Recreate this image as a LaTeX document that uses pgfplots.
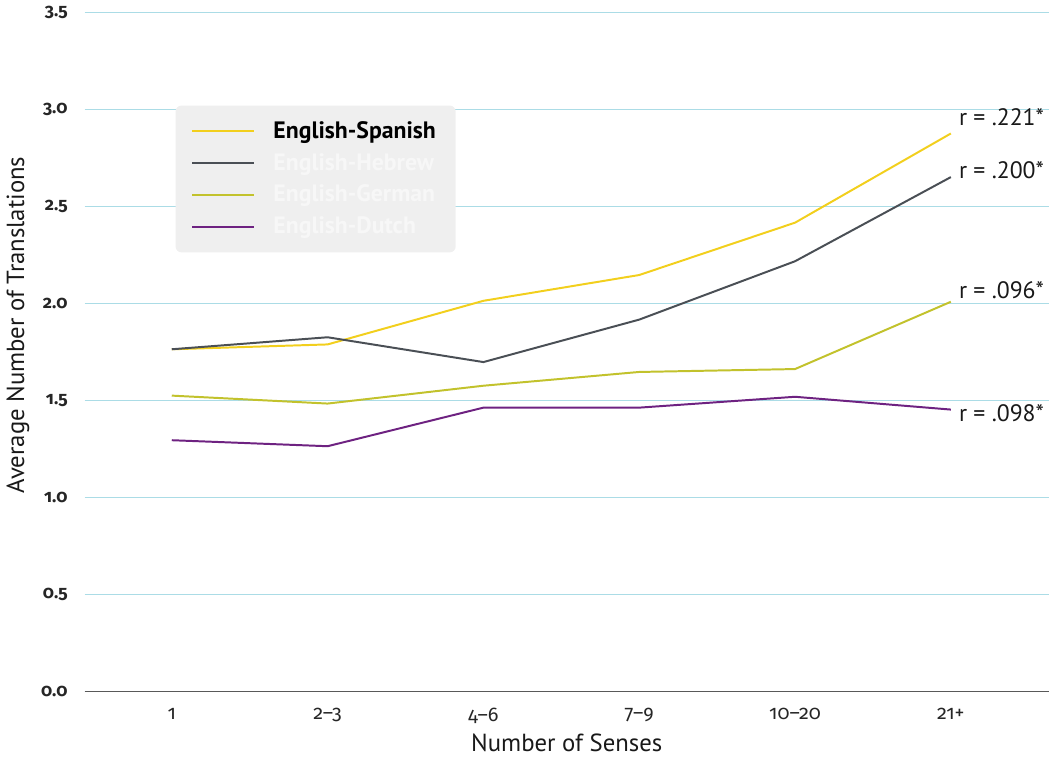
\documentclass[border=0pt]{standalone}
\usepackage{pgfplots}
\pgfplotsset{compat=1.18}
\usepackage{fontspec}
\setmainfont{PT Sans}
\newfontfamily\tickfont[Numbers=OldStyle]{Fira Sans}
\definecolor{cspan}{HTML}{F2CF1D}
\definecolor{cheb}{HTML}{4A4F55}
\definecolor{cger}{HTML}{C2C22C}
\definecolor{cdut}{HTML}{6E2281}
\definecolor{cgrid}{HTML}{ABDCE6}
\definecolor{clegbg}{HTML}{EFEFEF}
\begin{document}
\begin{tikzpicture}
\begin{axis}[
  scale only axis, width=487.5pt, height=343pt,
  xmin=-0.56, xmax=5.63, ymin=0, ymax=3.5,
  axis x line=bottom, axis y line=left,
  x axis line style={draw=black!65, line width=1pt, -},
  y axis line style={draw=none},
  xtick={0,1,2,3,4,5},
  xticklabels={1,2–3,4–6,7–9,10–20,21+},
  xticklabel style={font=\tickfont\fontsize{10}{11}\selectfont, text=black!85},
  ytick={0,0.5,...,3.5},
  ymajorgrids, grid style={cgrid, line width=0.6pt},
  major tick length=0pt,
  yticklabel style={font=\tickfont\bfseries\fontsize{9}{10}\selectfont, text=black!85},
  yticklabel={\pgfmathprintnumber[fixed,fixed zerofill,precision=1]{\tick}},
  /pgf/number format/assume math mode=true,
  xticklabel shift=5pt, yticklabel shift=5pt,
  xlabel={Number of Senses},
  ylabel={Average Number of Translations},
  label style={font=\fontsize{12.5}{14}\selectfont, text=black!90},
  xlabel style={yshift=2pt},
  ylabel style={at={(ticklabel cs:0.54)}, yshift=-1pt},
  legend style={at={(0.094,0.864)}, anchor=north west, fill=clegbg, draw=none,
    rounded corners=3pt, inner xsep=8pt, inner ysep=6pt,
    font=\fontsize{12}{13}\selectfont, row sep=2pt},
  legend cell align=left,
  legend image code/.code={\draw[#1, line width=1pt] (0pt,0pt) -- (31pt,0pt); \path[draw=none] (0pt,0pt) -- (39pt,0pt);},
  clip=false,
]
\addplot[cspan, line width=1pt] coordinates {(0,1.765) (1,1.79) (2,2.015) (3,2.148) (4,2.418) (5,2.878)};
\addlegendentry{\textcolor{black}{\bfseries English-Spanish}}
\addplot[cheb, line width=1pt] coordinates {(0,1.765) (1,1.827) (2,1.699) (3,1.918) (4,2.219) (5,2.653)};
\addlegendentry{\textcolor{white!97!black}{\bfseries English-Hebrew}}
\addplot[cger, line width=1pt] coordinates {(0,1.526) (1,1.485) (2,1.577) (3,1.648) (4,1.663) (5,2.01)};
\addlegendentry{\textcolor{white!97!black}{\bfseries English-German}}
\addplot[cdut, line width=1pt] coordinates {(0,1.296) (1,1.265) (2,1.464) (3,1.464) (4,1.52) (5,1.454)};
\addlegendentry{\textcolor{white!97!black}{\bfseries English-Dutch}}
\begin{scope}[every node/.style={anchor=west, inner sep=0pt, font=\fontsize{12}{14}\selectfont, text=black!90}]
\node at (axis cs:5.05,2.964) {r = .221*};
\node at (axis cs:5.05,2.689) {r = .200*};
\node at (axis cs:5.05,2.071) {r = .096*};
\node at (axis cs:5.05,1.434) {r = .098*};
\end{scope}
\end{axis}
\end{tikzpicture}
\end{document}
